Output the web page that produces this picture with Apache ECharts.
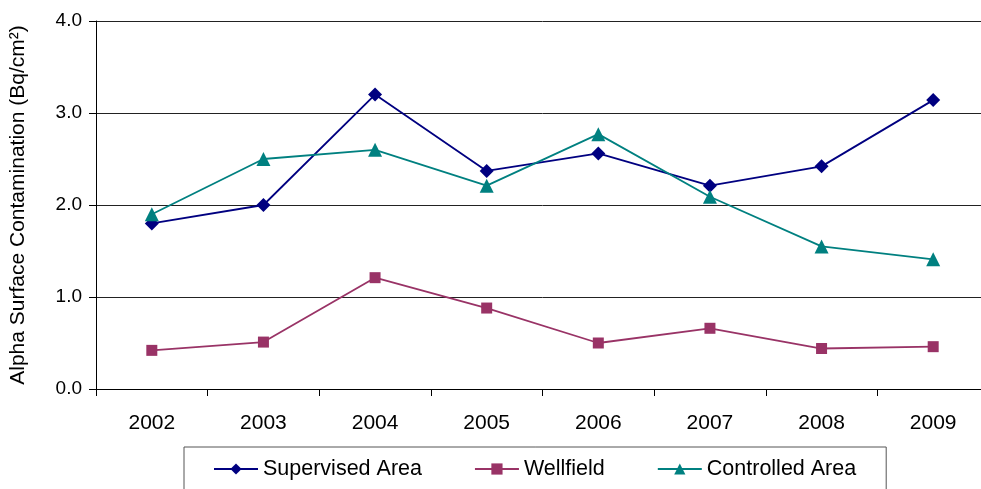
<!DOCTYPE html>
<html>
<head>
<meta charset="utf-8">
<script src="https://cdn.jsdelivr.net/npm/echarts@6/dist/echarts.min.js"></script>
<style>
  html, body { margin: 0; padding: 0; background: #fff; overflow: hidden; }
  #chart { width: 990px; height: 489px; }
</style>
</head>
<body>
<div id="chart"></div>
<script>
var years = ['2002', '2003', '2004', '2005', '2006', '2007', '2008', '2009'];
var supervised = [1.80, 2.00, 3.20, 2.37, 2.56, 2.21, 2.42, 3.14];
var wellfield = [0.42, 0.51, 1.21, 0.88, 0.50, 0.66, 0.44, 0.46];
var controlled = [1.90, 2.50, 2.60, 2.21, 2.77, 2.09, 1.55, 1.41];

var font = 'Liberation Sans, Arial, sans-serif';

// the reference plot is cut off on the right, so the chart is a little wider than the window
var chart = echarts.init(document.getElementById('chart'), null, { renderer: 'canvas' });

var option = {
    animation: false,
    backgroundColor: '#fff',
    grid: {
        left: 96,
        top: 21,
        right: 1,
        bottom: 100,
        outerBoundsMode: 'none'
    },
    legend: {
        left: 184,
        top: 447,
        padding: [11, 30, 30, 29],
        borderColor: '#555',
        borderWidth: 1,
        itemWidth: 44,
        itemHeight: 14,
        itemGap: 52,
        textStyle: { fontFamily: font, fontSize: 21.5, color: '#000' },
        data: ['Supervised Area', 'Wellfield', 'Controlled Area']
    },
    xAxis: {
        type: 'category',
        data: years,
        boundaryGap: true,
        axisLine: { lineStyle: { color: '#000', width: 1 } },
        axisTick: { show: true, length: 7, lineStyle: { color: '#000' } },
        axisLabel: { fontFamily: font, fontSize: 21, color: '#000', margin: 24 }
    },
    yAxis: {
        type: 'value',
        min: 0,
        max: 4,
        interval: 1,
        name: 'Alpha Surface Contamination (Bq/cm²)',
        nameLocation: 'middle',
        nameGap: 67,
        nameTextStyle: { fontFamily: font, fontSize: 21, color: '#000' },
        axisLine: { show: true, lineStyle: { color: '#000', width: 1 } },
        axisTick: { show: true, length: 7, lineStyle: { color: '#000' } },
        axisLabel: {
            fontFamily: font, fontSize: 19, color: '#000', margin: 14,
            formatter: function (v) { return v.toFixed(1); }
        },
        splitLine: { show: true, lineStyle: { color: '#222', width: 1 } }
    },
    series: [
        {
            name: 'Supervised Area',
            type: 'line',
            data: supervised,
            color: '#000080',
            symbol: 'diamond',
            symbolSize: 14,
            lineStyle: { width: 1.8 }
        },
        {
            name: 'Wellfield',
            type: 'line',
            data: wellfield,
            color: '#993366',
            symbol: 'rect',
            symbolSize: 11,
            lineStyle: { width: 1.8 }
        },
        {
            name: 'Controlled Area',
            type: 'line',
            data: controlled,
            color: '#008080',
            symbol: 'triangle',
            symbolSize: 14,
            lineStyle: { width: 1.8 }
        }
    ]
};

chart.setOption(option);
</script>
</body>
</html>
